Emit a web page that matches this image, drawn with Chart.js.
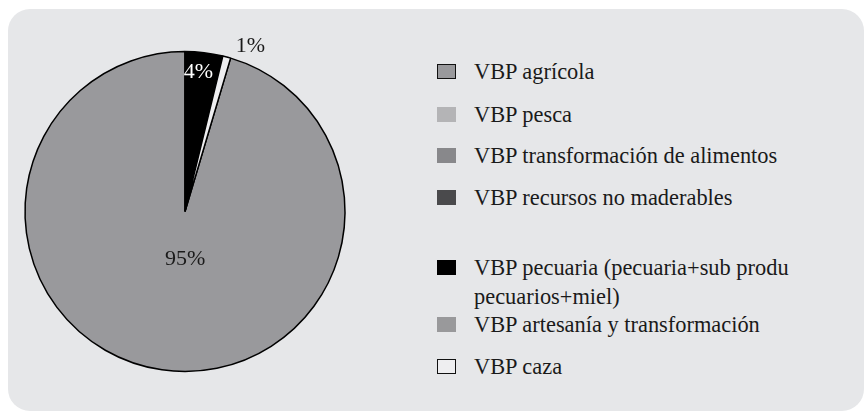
<!DOCTYPE html>
<html>
<head>
<meta charset="utf-8">
<script src="https://cdn.jsdelivr.net/npm/chart.js@4/dist/chart.umd.min.js"></script>
<style>
  html, body { margin: 0; padding: 0; width: 864px; height: 411px; overflow: hidden; background: #fff; }
  .panel { position: absolute; left: 8px; top: 9px; width: 856px; height: 402px; background: #e6e7e9; border-radius: 22px; }
  .pie { position: absolute; left: 0; top: 0; width: 370px; height: 411px; }
  .legend { position: absolute; left: 437px; top: 0; font-family: 'Liberation Serif', serif; font-size: 22.4px; color: #1a1a1a; }
  .item { position: absolute; left: 0; display: flex; align-items: flex-start; white-space: nowrap; line-height: 29px; }
  .sw { width: 19px; height: 15px; margin-top: 7px; margin-right: 18px; box-sizing: border-box; flex: none; }
</style>
</head>
<body>
<div class="panel"></div>
<div class="pie"><canvas id="c" width="370" height="411"></canvas></div>
<div class="legend" id="legend"></div>
<script>
// Series (legend order)
const labels = [
  'VBP agrícola',
  'VBP pesca',
  'VBP transformación de alimentos',
  'VBP recursos no maderables',
  ['VBP pecuaria (pecuaria+sub produ', 'pecuarios+miel)'],
  'VBP artesanía y transformación',
  'VBP caza'
];
const values = [95.4, 0, 0, 0, 3.8, 0, 0.8];
const colors = ['#99999c', '#b4b4b6', '#88888b', '#4a4a4c', '#000000', '#99999b', '#eeeef0'];
const swatchBorder = ['#111', null, null, null, null, null, '#111'];

// legend row tops (px)
const legendTops = [57, 100, 141, 183, 253, 310, 352];

const total = values.reduce((a, b) => a + b, 0);
// start so that pecuaria begins at 12 o'clock
const rotation = (values[4] + values[5] + values[6]) / total * 360;

// label placement per slice: fraction of radius, angle tweak (deg), colour
const labelPlace = {
  0: { f: 0.30, da: -8.5, color: '#1a1a1a' },
  4: { f: 0.875, da: -1.3, color: '#ffffff' },
  6: { f: 1.11, da: 6.5, color: '#1a1a1a' }
};

const pctLabels = {
  id: 'pctLabels',
  afterDatasetsDraw(chart) {
    const ctx = chart.ctx;
    const meta = chart.getDatasetMeta(0);
    ctx.save();
    ctx.font = "22px 'Liberation Serif'";
    ctx.textAlign = 'center';
    ctx.textBaseline = 'middle';
    meta.data.forEach((arc, i) => {
      const v = values[i];
      if (!v) return;
      const p = labelPlace[i] || { f: 0.6, da: 0, color: '#1a1a1a' };
      const mid = (arc.startAngle + arc.endAngle) / 2 + p.da * Math.PI / 180;
      const rr = arc.outerRadius * p.f;
      ctx.fillStyle = p.color;
      ctx.fillText(Math.round(v / total * 100) + '%', arc.x + Math.cos(mid) * rr, arc.y + Math.sin(mid) * rr);
    });
    ctx.restore();
  }
};

new Chart(document.getElementById('c'), {
  type: 'pie',
  data: {
    labels: labels.map(l => Array.isArray(l) ? l.join(' ') : l),
    datasets: [{
      data: values,
      backgroundColor: colors,
      borderColor: '#000000',
      borderWidth: 1.5
    }]
  },
  options: {
    responsive: false,
    animation: false,
    events: [],
    rotation: rotation,
    radius: 160,
    layout: { padding: { top: 12, bottom: 0, left: 0, right: 0 } },
    plugins: { legend: { display: false }, tooltip: { enabled: false } }
  },
  plugins: [pctLabels]
});

// HTML legend
const legendEl = document.getElementById('legend');
labels.forEach((l, i) => {
  const row = document.createElement('div');
  row.className = 'item';
  row.style.top = legendTops[i] + 'px';
  const sw = document.createElement('span');
  sw.className = 'sw';
  sw.style.background = colors[i];
  if (swatchBorder[i]) sw.style.border = '1.5px solid ' + swatchBorder[i];
  const tx = document.createElement('span');
  tx.innerHTML = Array.isArray(l) ? l.join('<br>') : l;
  row.appendChild(sw);
  row.appendChild(tx);
  legendEl.appendChild(row);
});
</script>
</body>
</html>
